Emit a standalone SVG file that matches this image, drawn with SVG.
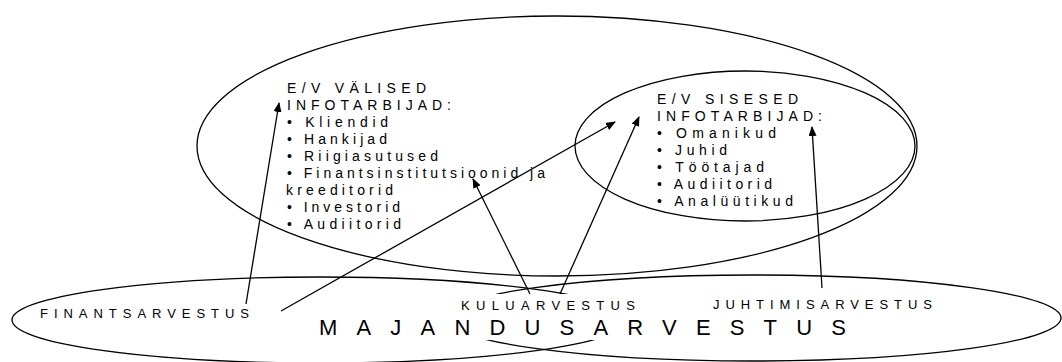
<svg xmlns="http://www.w3.org/2000/svg" width="1062" height="362" viewBox="0 0 1062 362">
<style>
  .shape { fill: none; stroke: #000; stroke-width: 1.3; }
  .mask { fill: #fff; stroke: none; }
  .t { font-family: "Liberation Sans", Arial, sans-serif; font-size: 14px; fill: #000; }
  .lbl { font-family: "Liberation Sans", Arial, sans-serif; font-size: 13px; fill: #000; }
  .title { font-family: "Liberation Sans", Arial, sans-serif; font-size: 22px; fill: #000; }
  .conn { fill: none; stroke: #000; stroke-width: 1.3; marker-end: url(#ah); }
</style>
<defs>
  <marker id="ah" markerUnits="userSpaceOnUse" markerWidth="10" markerHeight="8" refX="9" refY="4" orient="auto">
    <path d="M0,0 L10,4 L0,8 Z" fill="#000"/>
  </marker>
</defs>
<rect x="0" y="0" width="1062" height="362" fill="#fff"/>

<g id="majandusarvestus">
  <ellipse class="shape" cx="320" cy="320" rx="308" ry="43"/>
  <ellipse class="shape" cx="753" cy="318" rx="308" ry="43"/>
  <rect class="mask" x="438" y="294" width="200" height="20"/>
  <rect class="mask" x="314" y="313" width="537" height="27"/>
  <text class="title" x="319" y="335" textLength="527" lengthAdjust="spacing">MAJANDUSARVESTUS</text>
</g>

<g id="valised-infotarbijad">
  <ellipse class="shape" cx="557" cy="146" rx="360" ry="130"/>
  <text class="t" x="287" y="93" textLength="139" lengthAdjust="spacing">E/V VÄLISED</text>
  <text class="t" x="287" y="110" textLength="164" lengthAdjust="spacing">INFOTARBIJAD:</text>
  <text class="t" x="287" y="127" textLength="101" lengthAdjust="spacing">• Kliendid</text>
  <text class="t" x="287" y="144" textLength="100" lengthAdjust="spacing">• Hankijad</text>
  <text class="t" x="287" y="161" textLength="151" lengthAdjust="spacing">• Riigiasutused</text>
  <text class="t" x="287" y="178" textLength="258" lengthAdjust="spacing">• Finantsinstitutsioonid ja</text>
  <text class="t" x="286" y="195" textLength="107" lengthAdjust="spacing">kreeditorid</text>
  <text class="t" x="287" y="212" textLength="113" lengthAdjust="spacing">• Investorid</text>
  <text class="t" x="287" y="229" textLength="114" lengthAdjust="spacing">• Audiitorid</text>
</g>

<g id="sisesed-infotarbijad">
  <ellipse class="shape" cx="745" cy="146" rx="170" ry="75"/>
  <text class="t" x="657" y="104" textLength="141" lengthAdjust="spacing">E/V SISESED</text>
  <text class="t" x="657" y="121" textLength="165" lengthAdjust="spacing">INFOTARBIJAD:</text>
  <text class="t" x="657" y="138" textLength="119" lengthAdjust="spacing">• Omanikud</text>
  <text class="t" x="657" y="155" textLength="70" lengthAdjust="spacing">• Juhid</text>
  <text class="t" x="657" y="172" textLength="107" lengthAdjust="spacing">• Töötajad</text>
  <text class="t" x="657" y="189" textLength="115" lengthAdjust="spacing">• Audiitorid</text>
  <text class="t" x="657" y="206" textLength="136" lengthAdjust="spacing">• Analüütikud</text>
</g>

<g id="finantsarvestus">
  <text class="lbl" x="40" y="318" textLength="209" lengthAdjust="spacing">FINANTSARVESTUS</text>
</g>
<g id="kuluarvestus">
  <text class="lbl" x="461" y="310" textLength="174" lengthAdjust="spacing">KULUARVESTUS</text>
</g>
<g id="juhtimisarvestus">
  <text class="lbl" x="713" y="309" textLength="219" lengthAdjust="spacing">JUHTIMISARVESTUS</text>
</g>

<g id="connectors">
  <line class="conn" x1="246" y1="304" x2="279" y2="103"/>
  <line class="conn" x1="281" y1="311" x2="615" y2="122"/>
  <line class="conn" x1="530" y1="294" x2="473" y2="179"/>
  <line class="conn" x1="560" y1="294" x2="639" y2="117"/>
  <line class="conn" x1="822" y1="288" x2="812" y2="127"/>
</g>
</svg>
